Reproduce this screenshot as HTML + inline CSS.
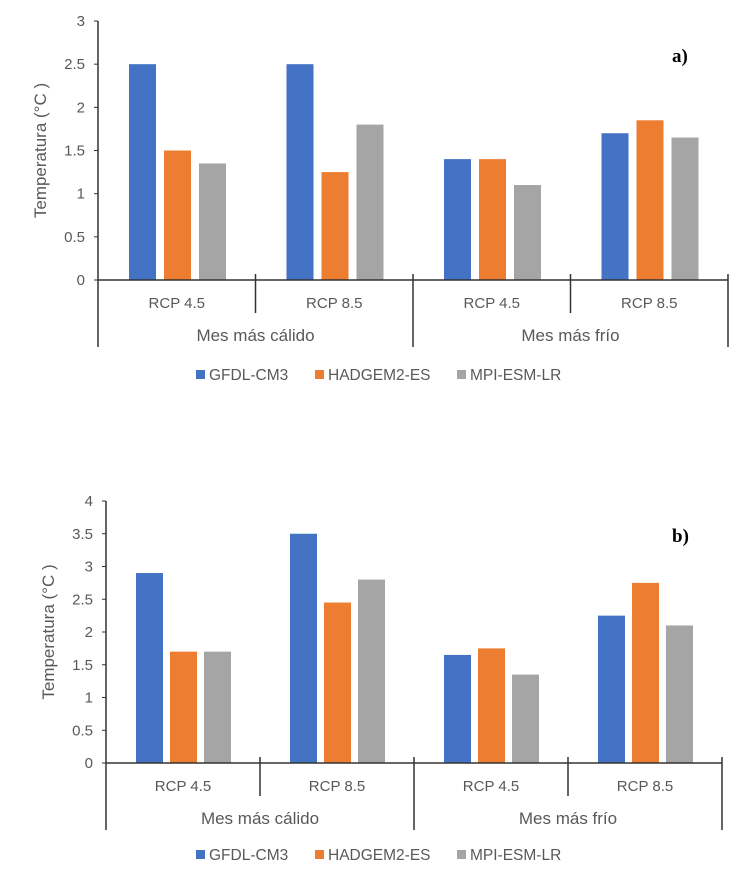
<!DOCTYPE html>
<html><head><meta charset="utf-8"><style>
body{margin:0;background:#fff;width:754px;height:885px;overflow:hidden}
svg{display:block}
text{font-family:"Liberation Sans",sans-serif;fill:#595959}
</style></head><body>
<svg id="s" width="754" height="885"></svg>
<script>
const categories=["RCP 4.5","RCP 8.5","RCP 4.5","RCP 8.5"];
const groups=["Mes más cálido","Mes más frío"];
const seriesNames=["GFDL-CM3","HADGEM2-ES","MPI-ESM-LR"];
const colors=["#4472c4","#ed7d31","#a5a5a5"];
const aGfdl=[2.5,2.5,1.4,1.7];
const aHad=[1.5,1.25,1.4,1.85];
const aMpi=[1.35,1.8,1.1,1.65];
const aTicks=[0,0.5,1,1.5,2,2.5,3];
const bGfdl=[2.9,3.5,1.65,2.25];
const bHad=[1.7,2.45,1.75,2.75];
const bMpi=[1.7,2.8,1.35,2.1];
const bTicks=[0,0.5,1,1.5,2,2.5,3,3.5,4];
const NS="http://www.w3.org/2000/svg";
const svg=document.getElementById('s');
function el(tag,attrs,parent,txt){const e=document.createElementNS(NS,tag);for(const k in attrs)e.setAttribute(k,attrs[k]);if(txt!==undefined)e.textContent=txt;(parent||svg).appendChild(e);return e;}
function chart(id,cfg,series,ticks){
  const g=el('g',{});
  
  
  const max=ticks[ticks.length-1];
  const y=v=>cfg.y0-(v/max)*(cfg.y0-cfg.yTop);
  const gw=(cfg.xR-cfg.x0)/categories.length;
  ticks.forEach(t=>{
    const tl=el('text',{x:cfg.x0-13,y:y(t)+5,'text-anchor':'end','font-size':15},g,String(t));
    
    
    el('line',{x1:cfg.x0-4,x2:cfg.x0,y1:y(t),y2:y(t),stroke:'#333','stroke-width':1},g);
  });
  const yt=el('text',{transform:`translate(${cfg.x0-52},${(cfg.y0+cfg.yTop)/2}) rotate(-90)`,'text-anchor':'middle','font-size':17},g,'Temperatura (°C )');
  
  
  series.forEach((vals,si)=>{
    vals.forEach((v,ci)=>{
      const bx=cfg.x0+ci*gw+cfg.off+si*cfg.step;
      const r=el('rect',{x:bx,y:y(v),width:cfg.bw,height:cfg.y0-y(v),fill:colors[si]},g);
      
      
    });
  });
  el('line',{x1:cfg.x0,x2:cfg.xR,y1:cfg.y0,y2:cfg.y0,stroke:'#333','stroke-width':1.5},g);
  el('line',{x1:cfg.x0,x2:cfg.x0,y1:cfg.yTop,y2:cfg.bottom,stroke:'#333','stroke-width':1.5},g);
  for(let i=1;i<=categories.length;i++){
    const x=cfg.x0+i*gw;
    const long=(i%2===0);
    el('line',{x1:x,x2:x,y1:cfg.y0-6,y2:long?cfg.bottom:cfg.y0+33,stroke:'#333','stroke-width':1.5},g);
  }
  categories.forEach((c,ci)=>{
    const t=el('text',{x:cfg.x0+(ci+0.5)*gw,y:cfg.y0+28,'text-anchor':'middle','font-size':15},g,c);
    
    
  });
  groups.forEach((gn,gi)=>{
    const t=el('text',{x:cfg.x0+(gi+0.5)*2*gw,y:cfg.y0+61,'text-anchor':'middle','font-size':17},g,gn);
    
    
  });
  const lx=[196,315,457];
  seriesNames.forEach((n,si)=>{
    const r=el('rect',{x:lx[si],y:cfg.legY-5,width:9,height:9,fill:colors[si]},g);
    
    
    const t=el('text',{x:lx[si]+13,y:cfg.legY+5,'font-size':15.5},g,n);
    
    
  });
  const p=el('text',{x:672,y:cfg.panelY,'font-size':19,'font-weight':'bold',style:'font-family:"Liberation Serif",serif;fill:#000'},g,cfg.panel);
  
  
}
chart('chart-a',{x0:98,xR:728,y0:280,yTop:21,bottom:347,off:31,bw:27,step:35,legY:375,panel:'a)',panelY:62},[aGfdl,aHad,aMpi],aTicks);
chart('chart-b',{x0:106,xR:722,y0:763,yTop:501,bottom:830,off:30,bw:27,step:34,legY:855,panel:'b)',panelY:542},[bGfdl,bHad,bMpi],bTicks);
</script>
</body></html>
